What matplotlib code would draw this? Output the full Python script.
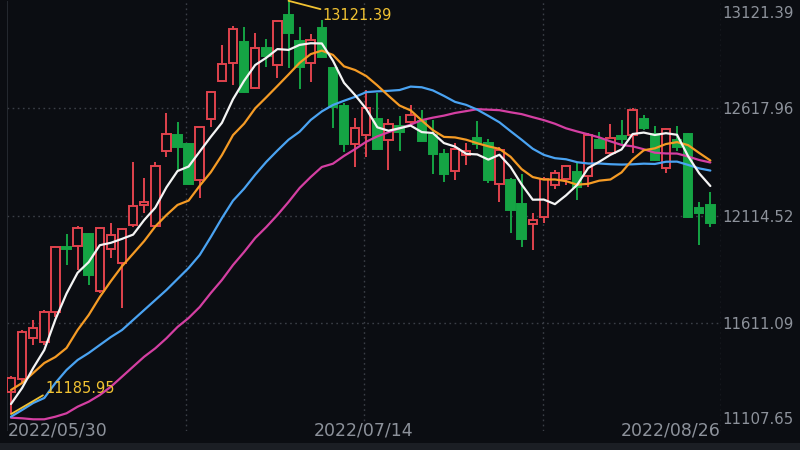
import numpy as np
import matplotlib
matplotlib.use("Agg")
import matplotlib.pyplot as plt
from matplotlib.patches import Rectangle

# Daily OHLC, 2022/05/30 - 2022/08/26
opens = [11290.8, 11348.8, 11540.9, 11523.5, 11664.0, 11968.4, 11973.1, 12027.0,
         11762.4, 11959.1, 11893.5, 12071.4, 12165.1, 12066.8, 12420.3, 12492.9,
         12452.2, 12282.2, 12569.3, 12745.8, 12828.7, 12929.9, 12711.6, 12898.9,
         12820.7, 13054.9, 12934.5, 12828.7, 12995.4, 12805.3, 12628.7, 12453.1,
         12490.6, 12569.3, 12469.5, 12535.1, 12555.2, 12557.6, 12492.9, 12401.6,
         12324.3, 12399.3, 12481.2, 12454.1, 12263.5, 12282.2, 12171.2, 12077.5,
         12110.3, 12260.2, 12289.2, 12317.3, 12299.5, 12469.5, 12407.2, 12488.2,
         12492.9, 12568.8, 12496.7, 12339.3, 12469.5, 12497.6, 12152.0, 12165.1]
highs = [11364.3, 11579.7, 11624.2, 11673.4, 11970.8, 12031.6, 12066.8, 12032.6,
         12064.4, 12078.5, 12058.8, 12367.9, 12290.2, 12367.9, 12597.4, 12552.9,
         12456.9, 12531.8, 12697.6, 12914.4, 13003.4, 12998.7, 12969.2, 12941.1,
         13029.0, 13121.39, 12997.3, 12963.6, 13031.5, 12806.0, 12641.4, 12573.9,
         12703.7, 12691.0, 12569.3, 12581.9, 12633.4, 12608.6, 12563.2, 12426.0,
         12455.5, 12454.1, 12559.9, 12472.8, 12436.7, 12290.2, 12309.3, 12126.2,
         12297.6, 12329.0, 12352.4, 12360.4, 12504.6, 12508.4, 12544.4, 12563.2,
         12621.7, 12586.6, 12533.7, 12524.3, 12537.4, 12503.7, 12178.2, 12227.4]
lows = [11185.95, 11331.5, 11509.5, 11511.8, 11642.9, 11884.1, 11860.7, 11790.5,
        11753.0, 11915.5, 11681.3, 12064.4, 12126.2, 12062.0, 12391.3, 12329.0,
        12258.8, 12197.9, 12531.8, 12743.5, 12727.1, 12691.0, 12710.0, 12812.8,
        12758.5, 12809.0, 12706.9, 12742.5, 12858.0, 12527.1, 12414.7, 12344.5,
        12391.3, 12425.0, 12327.6, 12419.4, 12535.1, 12465.0, 12311.7, 12274.2,
        12283.6, 12352.4, 12427.4, 12266.7, 12180.6, 12032.6, 11969.8, 11955.8,
        12079.4, 12241.0, 12258.8, 12188.5, 12250.8, 12426.0, 12406.0, 12450.8,
        12407.2, 12516.3, 12371.0, 12313.6, 12418.0, 12102.8, 11977.8, 12063.5]
closes = [11353.5, 11571.8, 11587.7, 11664.0, 11968.4, 11959.1, 12059.7, 11837.3,
          12059.7, 12024.6, 12051.3, 12159.0, 12179.2, 12349.2, 12499.0, 12434.4,
          12264.9, 12529.0, 12695.7, 12825.4, 12988.4, 12695.7, 12898.9, 12865.2,
          13028.2, 12969.2, 12812.8, 12937.8, 12859.6, 12625.5, 12450.8, 12524.3,
          12618.0, 12426.0, 12545.8, 12508.4, 12586.6, 12466.2, 12403.9, 12310.3,
          12426.0, 12418.0, 12451.7, 12282.2, 12424.1, 12141.7, 12006.8, 12094.9,
          12285.5, 12316.4, 12347.8, 12250.8, 12492.9, 12430.6, 12477.5, 12474.2,
          12612.3, 12526.6, 12374.4, 12519.6, 12436.7, 12108.9, 12126.2, 12079.4]

# Moving-average values for the first days, whose windows reach back before 05/30
ma5_head = [11233.2, 11308.1, 11401.8, 11486.1]
ma10_head = [11298.7, 11331.5, 11378.3, 11425.2, 11453.3, 11495.4, 11579.7,
             11650.0, 11734.3]
ma20_head = [11173.7, 11205.1, 11237.9, 11261.3, 11331.5, 11392.4, 11439.2,
             11472.0, 11509.5, 11546.9, 11579.7, 11626.6, 11673.4, 11720.2,
             11767.0, 11818.6, 11870.1, 11931.0, 12015.3]
ma30_head = [11169.0, 11166.2, 11161.5, 11161.5, 11173.7, 11189.6, 11220.5,
             11243.9, 11275.3, 11314.2, 11361.0, 11407.9, 11454.7, 11494.0,
             11540.9, 11593.8, 11635.9, 11687.4, 11753.0, 11813.9, 11884.1,
             11945.0, 12010.6, 12062.1, 12118.3, 12179.2, 12244.7, 12296.2,
             12343.1]

y_ticks = [11107.65, 11611.09, 12114.52, 12617.96, 13121.39]
date_labels = ["2022/05/30", "2022/07/14", "2022/08/26"]

BG = "#0b0d12"
RED = "#e0434d"
GREEN = "#15a444"
GRID = "#3b3f47"
TEXT = "#8d929b"
GOLD = "#f1c232"
MA_COLORS = {5: "#f4f4f4", 10: "#f59b25", 20: "#4aa3f2", 30: "#d43fa2"}


def moving_average(values, n, head):
    out = list(head)
    for i in range(n - 1, len(values)):
        out.append(float(np.mean(values[i - n + 1:i + 1])))
    return np.array(out)


fig = plt.figure(figsize=(8, 4.5), dpi=100, facecolor=BG)
ax = fig.add_axes([7 / 800, (450 - 430.8) / 450, 714 / 800, 430 / 450])
ax.set_facecolor(BG)
for s in ax.spines.values():
    s.set_visible(False)
ax.set_xticks([])
ax.set_yticks([])
ax.set_xlim(-0.36, 63.96)
ax.set_ylim(y_ticks[0], y_ticks[-1])

# bottom strip
fig.patches.append(Rectangle((0, 0), 1, 7 / 450, transform=fig.transFigure,
                             facecolor="#1b1e24", edgecolor="none", zorder=0))

# grid
x0, x1 = ax.get_xlim()
for v in y_ticks[1:-1]:
    ax.axhline(v, color=GRID, lw=1.0, ls=(0, (1.2, 2.5)), zorder=1)
for fx in (0.25, 0.5, 0.75, 1.0):
    ax.axvline(x0 + fx * (x1 - x0), color=GRID, lw=1.0, ls=(0, (1.2, 2.5)),
               zorder=1)
ax.axvline(x0, color="#2a2e35", lw=1.2, zorder=1)

# candles
x = np.arange(len(closes))
bw = 0.76
min_h = 5.0
for i in x:
    o, h, l, c = opens[i], highs[i], lows[i], closes[i]
    up = c >= o
    col = RED if up else GREEN
    ax.vlines(i, l, h, color=col, lw=1.4, zorder=2)
    lo, hi = min(o, c), max(o, c)
    hgt = max(hi - lo, min_h)
    ax.add_patch(Rectangle((i - bw / 2, lo), bw, hgt,
                           facecolor=BG if up else col, edgecolor=col,
                           lw=1.4, zorder=3))

# moving averages
for n, head in ((30, ma30_head), (20, ma20_head), (10, ma10_head), (5, ma5_head)):
    ma = moving_average(closes, n, head)
    ax.plot(x, ma, color=MA_COLORS[n], lw=1.6, zorder=4, solid_capstyle="round")

# high / low markers
ih = int(np.argmax(highs))
il = int(np.argmin(lows))
ax.annotate("", xy=(ih, highs[ih]), xytext=(23, -6), textcoords="offset points",
            arrowprops=dict(arrowstyle="-", color=GOLD, lw=1.3,
                            shrinkA=0, shrinkB=0), annotation_clip=False, zorder=5)
ax.annotate(f"{highs[ih]:.2f}", xy=(ih, highs[ih]), xytext=(24.5, -10.5),
            textcoords="offset points", ha="left", va="center", color=GOLD,
            fontsize=10.5, annotation_clip=False, zorder=5)
ax.annotate("", xy=(il, lows[il]), xytext=(23, 13.5), textcoords="offset points",
            arrowprops=dict(arrowstyle="-", color=GOLD, lw=1.3,
                            shrinkA=0, shrinkB=0), annotation_clip=False, zorder=5)
ax.annotate(f"{lows[il]:.2f}", xy=(il, lows[il]), xytext=(24.5, 18.6),
            textcoords="offset points", ha="left", va="center", color=GOLD,
            fontsize=10.5, annotation_clip=False, zorder=5)

# price scale on the right
for k, v in enumerate(y_ticks):
    if k == len(y_ticks) - 1:
        va, dy = "top", -4
    elif k == 0:
        va, dy = "bottom", 3
    else:
        va, dy = "center", -1
    ax.annotate(f"{v:.2f}", xy=(1.0, v), xycoords=("axes fraction", "data"),
                xytext=(1, dy), textcoords="offset points", ha="left", va=va,
                color=TEXT, fontsize=10.8, annotation_clip=False)

# date labels
ax.text(0.0015, 0.0, date_labels[0], transform=ax.transAxes, ha="left",
        va="center", color=TEXT, fontsize=12.5)
ax.text(0.5, 0.0, date_labels[1], transform=ax.transAxes, ha="center",
        va="center", color=TEXT, fontsize=12.5)
ax.text(0.999, 0.0, date_labels[2], transform=ax.transAxes, ha="right",
        va="center", color=TEXT, fontsize=12.5)

fig.savefig("out.png", dpi=100, facecolor=BG)
